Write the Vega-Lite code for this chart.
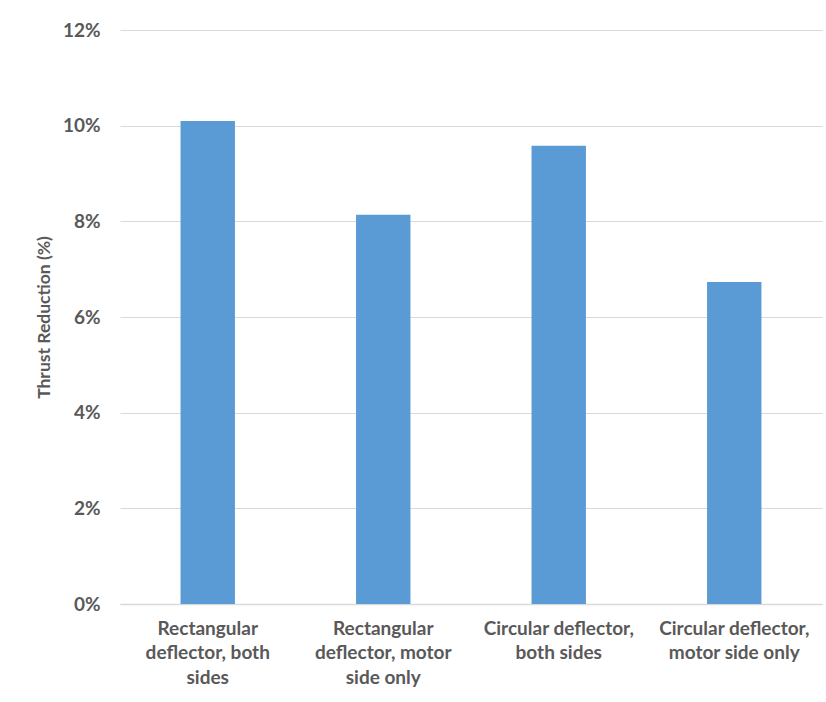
{
  "$schema": "https://vega.github.io/schema/vega-lite/v6.json",
  "width": 702,
  "height": 574,
  "autosize": {"type": "none"},
  "padding": {"left": 120, "top": 30, "right": 4, "bottom": 98},
  "background": "white",
  "config": {
    "view": {"stroke": null},
    "font": "Lato",
    "axis": {"labelFont": "Lato", "titleFont": "Lato", "labelColor": "#595959", "titleColor": "#595959", "labelFontWeight": "bold", "titleFontWeight": "bold"}
  },
  "data": {
    "values": [
      {"deflector": "Rectangular deflector, both sides", "reduction": 0.101},
      {"deflector": "Rectangular deflector, motor side only", "reduction": 0.0814},
      {"deflector": "Circular deflector, both sides", "reduction": 0.0958},
      {"deflector": "Circular deflector, motor side only", "reduction": 0.0673}
    ]
  },
  "mark": {"type": "bar", "color": "#5b9bd5"},
  "encoding": {
    "x": {
      "field": "deflector",
      "type": "nominal",
      "sort": null,
      "title": null,
      "scale": {"paddingInner": 0.69, "paddingOuter": 0.345},
      "axis": {
        "labelAngle": 0,
        "labelFontSize": 19,
        "labelLineHeight": 24.5,
        "labelPadding": 15,
        "labelBaseline": "top",
        "ticks": false,
        "domainColor": "#d9d9d9",
        "domainWidth": 1.5,
        "labelLimit": 0,
        "labelExpr": "datum.value == 'Rectangular deflector, both sides' ? ['Rectangular', 'deflector, both', 'sides'] : datum.value == 'Rectangular deflector, motor side only' ? ['Rectangular', 'deflector, motor', 'side only'] : datum.value == 'Circular deflector, both sides' ? ['Circular deflector,', 'both sides'] : ['Circular deflector,', 'motor side only']"
      }
    },
    "y": {
      "field": "reduction",
      "type": "quantitative",
      "title": "Thrust Reduction (%)",
      "scale": {"domain": [0, 0.12]},
      "axis": {
        "values": [0, 0.02, 0.04, 0.06, 0.08, 0.1, 0.12],
        "format": ".0%",
        "labelFontSize": 19,
        "labelPadding": 20,
        "ticks": false,
        "domain": false,
        "gridColor": "#d9d9d9",
        "gridWidth": 1.2,
        "titleFontSize": 17.5,
        "titlePadding": 9
      }
    }
  }
}
